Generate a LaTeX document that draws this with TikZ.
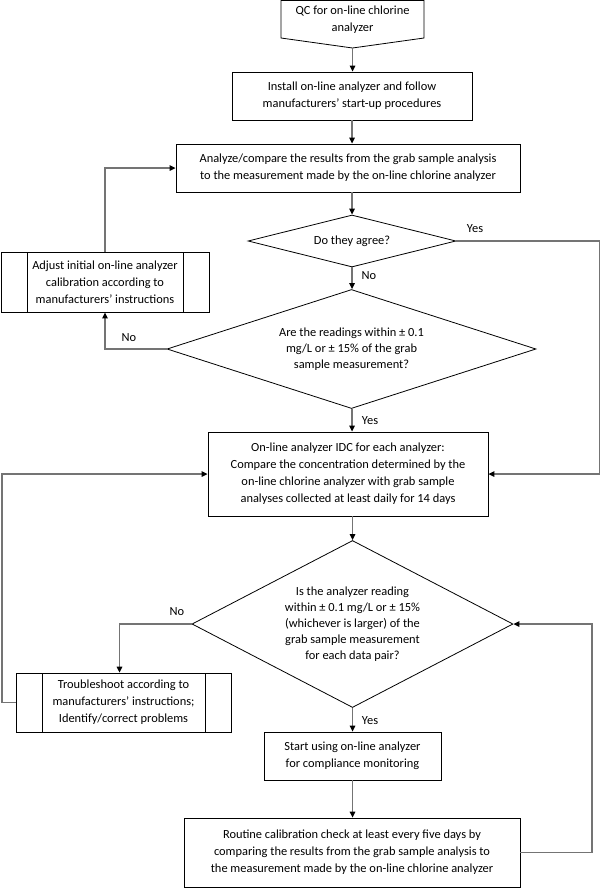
\documentclass[tikz,border=0pt]{standalone}
\usepackage{fontspec}
\setmainfont{Carlito}
\usetikzlibrary{arrows.meta,shapes.geometric}
\definecolor{ink}{HTML}{000000}
\definecolor{wire}{HTML}{747474}
\tikzset{
  box/.style={draw=ink,line width=0.8pt,align=center,inner sep=2pt,text=ink,
    font=\fontsize{12.4}{17}\selectfont},
  proc/.style={box,path picture={
    \draw[ink,line width=0.8pt] ([xshift=26pt]path picture bounding box.north west)
      -- ([xshift=26pt]path picture bounding box.south west);
    \draw[ink,line width=0.8pt] ([xshift=-26pt]path picture bounding box.north east)
      -- ([xshift=-26pt]path picture bounding box.south east);}},
  ask/.style={diamond,draw=ink,line width=0.8pt,align=center,inner sep=0pt,text=ink,
    font=\fontsize{12.4}{16}\selectfont},
  arr/.style={-{Triangle[length=6pt,width=5.5pt,color=black,fill=black]},line width=1.3pt,draw=wire},
  tag/.style={font=\fontsize{12.4}{13}\selectfont,text=ink,inner sep=1pt},
}
\begin{document}
\begin{tikzpicture}[x=1pt,y=-1pt]
    \useasboundingbox (0,0) rectangle (601,889);
    \draw[ink,line width=0.8pt] (281,0.4) -- (424,0.4) -- (424,38) -- (352.5,48) -- (281,38) -- cycle;
    \node[font=\fontsize{12.4}{17}\selectfont,align=center,text=ink] (qc) at (352.5,20) {QC for on-line chlorine\\analyzer};
    \coordinate (qctip) at (352.5,48);
    \node[box,minimum width=240pt,minimum height=48pt] (install) at (352,96)
      {Install on-line analyzer and follow\\manufacturers’ start-up procedures};
    \node[box,minimum width=344pt,minimum height=48pt] (analyze) at (348,168)
      {Analyze/compare the results from the grab sample analysis\\to the measurement made by the on-line chlorine analyzer};
    \node[ask,minimum width=208pt,minimum height=52pt,aspect=4] (agree) at (352,241) {Do they agree?};
    \node[ask,minimum width=369pt,minimum height=119pt,aspect=3.1] (within) at (351.5,349)
      {Are the readings within ± 0.1\\mg/L or ± 15\% of the grab\\sample measurement?};
    \node[proc,minimum width=208pt,minimum height=60pt] (adjust) at (105,282)
      {Adjust initial on-line analyzer\\calibration according to\\manufacturers’ instructions};
    \node[box,minimum width=280pt,minimum height=84pt] (idc) at (348,474)
      {On-line analyzer IDC for each analyzer:\\Compare the concentration determined by the\\on-line chlorine analyzer with grab sample\\analyses collected at least daily for 14 days};
    \node[ask,minimum width=321pt,minimum height=167pt,aspect=1.92] (check) at (352.5,624)
      {Is the analyzer reading\\within ± 0.1 mg/L or ± 15\%\\(whichever is larger) of the\\grab sample measurement\\for each data pair?};
    \node[proc,minimum width=215pt,minimum height=59pt] (trouble) at (123.5,702.5)
      {Troubleshoot according to\\manufacturers’ instructions;\\Identify/correct problems};
    \node[box,minimum width=177pt,minimum height=48pt] (start) at (352.5,756)
      {Start using on-line analyzer\\for compliance monitoring};
    \node[box,minimum width=336pt,minimum height=69pt] (routine) at (352,852.5)
      {Routine calibration check at least every five days by\\comparing the results from the grab sample analysis to\\the measurement made by the on-line chlorine analyzer};
    \node[tag] (yes1) at (475,229) {Yes};
    \node[tag] (no1) at (369,276) {No};
    \node[tag] (no2) at (129,338) {No};
    \node[tag] (yes2) at (370,421) {Yes};
    \node[tag] (no3) at (177,612) {No};
    \node[tag] (yes3) at (370,721) {Yes};
    \coordinate (eastrail) at (599.5,0);
    \coordinate (westrail) at (2,0);
    \coordinate (looprail) at (592,0);
    \draw[arr] (qctip) -- (qctip |- install.north);
    \draw[arr] (install.south) -- (install.south |- analyze.north);
    \draw[arr] (analyze.south -| agree.north) -- (agree.north);
    \draw[arr] (agree.south) -- (within.north -| agree.south);
    \draw[arr] (agree.east) -- (agree.east -| eastrail) |- (idc.east);
    \draw[arr] (within.west) -| (adjust.south);
    \draw[arr] (adjust.north) |- (analyze.west);
    \draw[arr] (within.south -| agree.south) -- (idc.north -| agree.south);
    \draw[arr] (idc.south -| check.north) -- (check.north);
    \draw[arr] (check.west) -| ([xshift=-4pt]trouble.north);
    \draw[arr] (trouble.west) -- (trouble.west -| westrail) |- (idc.west);
    \draw[arr] (check.south) -- (start.north);
    \draw[arr] (start.south) -- (start.south |- routine.north);
    \draw[arr] (routine.east) -- (routine.east -| looprail) |- (check.east);
\end{tikzpicture}
\end{document}
